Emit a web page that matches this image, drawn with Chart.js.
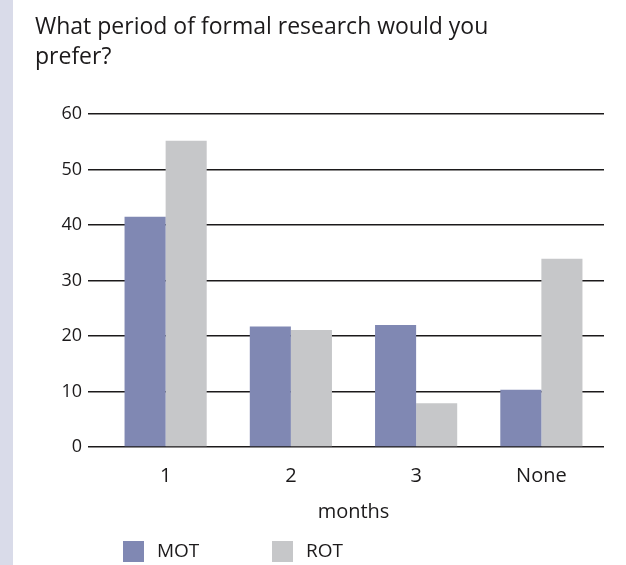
<!DOCTYPE html>
<html>
<head>
<meta charset="utf-8">
<script src="https://cdn.jsdelivr.net/npm/chart.js@4/dist/chart.umd.min.js"></script>
<style>
  html, body { margin: 0; padding: 0; background: #fff; overflow: hidden; }
  #stripe { position: absolute; left: 0; top: 0; width: 13px; height: 565px; background: #d9dbe9; }
  #wrap { position: absolute; left: 0; top: 0; width: 626px; height: 565px; }
</style>
</head>
<body>
<div id="stripe"></div>
<div id="wrap"><canvas id="chart"></canvas></div>
<script>
// data
var categories = ['1', '2', '3', 'None'];
var motValues = [41.5, 21.7, 22.0, 10.3];
var rotValues = [55.2, 21.1, 7.9, 33.9];
var yTicks = [0, 10, 20, 30, 40, 50, 60];

var textColor = '#1c1a1b';
var fontName = '"Open Sans", "Noto Sans", sans-serif';

// legend drawn at bottom-left, spaced like the original
var bottomLegend = {
  id: 'bottomLegend',
  afterDraw: function(chart) {
    var ctx = chart.ctx;
    var x = 123;
    ctx.save();
    ctx.font = '19px ' + fontName;
    ctx.textBaseline = 'middle';
    chart.data.datasets.forEach(function(ds, i) {
      var bx = x + i * 149;
      ctx.fillStyle = ds.backgroundColor;
      ctx.fillRect(bx, 541, 21, 21);
      ctx.fillStyle = textColor;
      ctx.fillText(ds.label, bx + 34, 552);
    });
    ctx.restore();
  }
};

var chartCtx = document.getElementById('chart').getContext('2d');

var bar = new Chart(chartCtx, {
  type: 'bar',
  data: {
    labels: categories,
    datasets: [{
      label: 'MOT',
      data: motValues,
      backgroundColor: '#8088b3'
    }, {
      label: 'ROT',
      data: rotValues,
      backgroundColor: '#c6c7c9'
    }]
  },
  options: {
    responsive: true,
    maintainAspectRatio: false,
    animation: false,
    layout: {
      padding: { left: 35, right: 22, top: 0, bottom: 40 }
    },
    datasets: {
      bar: { categoryPercentage: 0.656, barPercentage: 1 }
    },
    plugins: {
      legend: { display: false },
      tooltip: { enabled: false },
      title: {
        display: true,
        align: 'start',
        text: ['What period of formal research would you', 'prefer?'],
        color: textColor,
        font: { family: fontName, size: 23, weight: 'normal', lineHeight: '30px' },
        padding: { top: 12, bottom: 42 }
      }
    },
    scales: {
      x: {
        grid: { display: false, drawTicks: false },
        border: { display: false },
        ticks: {
          color: textColor,
          padding: 17,
          font: { family: fontName, size: 20 }
        },
        title: {
          display: true,
          text: 'months',
          color: textColor,
          font: { family: fontName, size: 20 },
          padding: { top: -5, bottom: 1 }
        }
      },
      y: {
        min: 0,
        max: 60,
        afterFit: function(scale) { scale.width = 68; },
        afterBuildTicks: function(scale) {
          scale.ticks = yTicks.map(function(v) { return { value: v }; });
        },
        grid: {
          color: textColor,
          lineWidth: 1.5,
          tickLength: 15,
          drawTicks: true
        },
        border: { display: false },
        ticks: {
          color: textColor,
          padding: 6,
          font: { family: fontName, size: 18 }
        }
      }
    }
  },
  plugins: [bottomLegend]
});
</script>
</body>
</html>
